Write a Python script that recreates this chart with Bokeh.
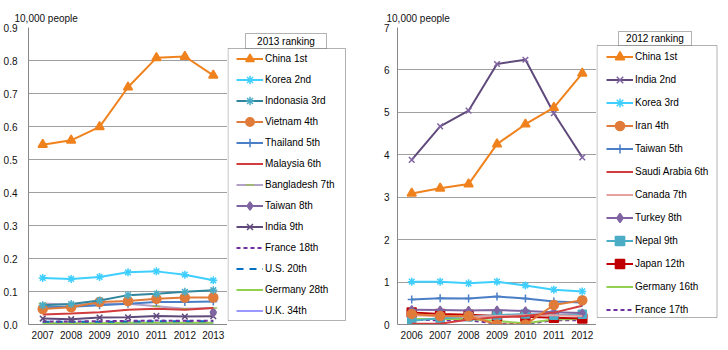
from bokeh.plotting import figure
from bokeh.models import (Range1d, FactorRange, FixedTicker, NumeralTickFormatter,
                          Legend, LegendItem, Label, BoxAnnotation)
from bokeh.layouts import row
from bokeh.embed import file_html
from bokeh.resources import INLINE

nan = float("nan")
FONT = "Liberation Sans"

# ---------------- 2013 ranking (left) ----------------
years_a = ["2007", "2008", "2009", "2010", "2011", "2012", "2013"]
china_a = [0.545, 0.558, 0.599, 0.719, 0.808, 0.812, 0.755]
korea_a = [0.141, 0.138, 0.144, 0.158, 0.161, 0.151, 0.134]
indonesia_a = [0.058, 0.062, 0.073, 0.089, 0.093, 0.099, 0.104]
vietnam_a = [0.047, 0.052, 0.068, 0.071, 0.078, 0.082, 0.082]
thailand_a = [0.052, 0.054, 0.058, 0.063, 0.068, 0.068, 0.070]
malaysia_a = [0.030, 0.033, 0.037, 0.045, 0.048, 0.045, 0.050]
bangladesh_a = [0.064, 0.060, 0.063, 0.063, 0.055, 0.048, 0.050]
taiwan_a = [nan, nan, nan, nan, nan, nan, 0.037]
india_a = [0.018, 0.016, 0.021, 0.022, 0.026, 0.024, 0.025]
france_a = [0.009, 0.009, 0.010, 0.011, 0.012, 0.011, 0.011]
us_a = [0.008, 0.008, 0.008, 0.009, 0.010, 0.010, 0.010]
germany_a = [0.004, 0.004, 0.004, 0.005, 0.005, 0.005, 0.005]
uk_a = [0.003, 0.003, 0.003, 0.003, 0.003, 0.003, 0.003]
ticks_a = [0.0, 0.1, 0.2, 0.3, 0.4, 0.5, 0.6, 0.7, 0.8, 0.9]

# ---------------- 2012 ranking (right) ----------------
years_b = ["2006", "2007", "2008", "2009", "2010", "2011", "2012"]
china_b = [3.09, 3.21, 3.31, 4.25, 4.72, 5.11, 5.92]
india_b = [3.88, 4.67, 5.04, 6.14, 6.24, 4.98, 3.94]
korea_b = [1.01, 1.01, 0.97, 1.01, 0.92, 0.82, 0.78]
iran_b = [0.25, 0.20, 0.20, 0.00, 0.00, 0.46, 0.57]
taiwan_b = [0.59, 0.62, 0.61, 0.66, 0.61, 0.54, 0.52]
saudi_b = [0.02, 0.02, 0.12, 0.17, 0.20, 0.28, 0.44]
canada_b = [0.22, 0.20, 0.18, 0.20, 0.22, 0.22, 0.20]
turkey_b = [0.35, 0.34, 0.33, 0.34, 0.32, 0.29, 0.27]
nepal_b = [0.09, 0.15, 0.18, 0.22, 0.25, 0.22, 0.24]
japan_b = [0.28, 0.25, 0.23, 0.20, 0.18, 0.16, 0.14]
germany_b = [0.13, 0.13, 0.13, 0.08, 0.03, 0.12, 0.13]
france_b = [0.11, 0.10, 0.10, 0.02, 0.01, 0.10, 0.10]
ticks_b = [0, 1, 2, 3, 4, 5, 6, 7]

series_a = [
    ("China 1st", china_a, "#F0821E", "triangle", "solid", "#F0821E", 9),
    ("Korea 2nd", korea_a, "#3FCFFF", "asterisk", "solid", "#3FCFFF", 8),
    ("Indonasia 3rd", indonesia_a, "#31859C", "asterisk", "solid", "#4BACC6", 8),
    ("Vietnam 4th", vietnam_a, "#E07B39", "circle", "solid", "#E07B39", 9),
    ("Thailand 5th", thailand_a, "#4A7EC6", "cross", "solid", "#4A7EC6", 8),
    ("Malaysia 6th", malaysia_a, "#D23C3C", None, "solid", None, 0),
    ("Bangladesh 7th", bangladesh_a, "#B3A2C7", "dash", "solid", "#9BBB59", 8),
    ("Taiwan 8th", taiwan_a, "#8064A2", "diamond", "solid", "#8064A2", 9),
    ("India 9th", india_a, "#604A7B", "x", "solid", "#604A7B", 8),
    ("France 18th", france_a, "#7030A0", None, "4 3", None, 0),
    ("U.S. 20th", us_a, "#0070C0", None, "7 6", None, 0),
    ("Germany 28th", germany_a, "#92D050", None, "solid", None, 0),
    ("U.K. 34th", uk_a, "#9999FF", None, "solid", None, 0),
]

series_b = [
    ("China 1st", china_b, "#F0821E", "triangle", "solid", "#F0821E", 9),
    ("India 2nd", india_b, "#604A7B", "x", "solid", "#8064A2", 8),
    ("Korea 3rd", korea_b, "#3FCFFF", "asterisk", "solid", "#3FCFFF", 8),
    ("Iran 4th", iran_b, "#E07B39", "circle", "solid", "#E07B39", 9),
    ("Taiwan 5th", taiwan_b, "#4A7EC6", "cross", "solid", "#4A7EC6", 8),
    ("Saudi Arabia 6th", saudi_b, "#D23C3C", None, "solid", None, 0),
    ("Canada 7th", canada_b, "#E6A0A0", None, "solid", None, 0),
    ("Turkey 8th", turkey_b, "#8064A2", "diamond", "solid", "#8064A2", 8),
    ("Nepal 9th", nepal_b, "#4BACC6", "square", "solid", "#4BACC6", 8),
    ("Japan 12th", japan_b, "#C00000", "square", "solid", "#C00000", 9),
    ("Germany 16th", germany_b, "#92D050", None, "solid", None, 0),
    ("France 17th", france_b, "#7030A0", None, "4 3", None, 0),
]

HEIGHT = 350
TOP = 27          # frame top (canvas px) shared by every figure in the row
FRAME_H = 297     # frame height -> frame bottom at 324
BOTTOM = HEIGHT - TOP - FRAME_H


def make_plot(years, series, ticks, ymax, fmt, b_left, f_w, lab_stand, title_off):
    width = b_left + f_w
    p = figure(width=width, height=HEIGHT, x_range=FactorRange(*years),
               y_range=Range1d(0, ymax), output_backend="svg",
               toolbar_location=None, min_border_left=b_left,
               min_border_right=0, min_border_top=TOP,
               min_border_bottom=BOTTOM)
    p.outline_line_color = None
    p.background_fill_color = "white"
    p.border_fill_color = "white"
    p.xgrid.grid_line_color = None
    p.ygrid.grid_line_color = "#A0A0A0"
    p.ygrid.grid_line_width = 1
    p.yaxis.ticker = FixedTicker(ticks=ticks)
    p.yaxis.formatter = NumeralTickFormatter(format=fmt)
    for ax in (p.xaxis[0], p.yaxis[0]):
        ax.axis_line_color = "#888888"
        ax.major_tick_line_color = None
        ax.minor_tick_line_color = None
        ax.major_tick_out = 0
        ax.major_tick_in = 0
        ax.minor_tick_out = 0
        ax.minor_tick_in = 0
        ax.major_label_text_font = FONT
        ax.major_label_text_font_size = "10px"
        ax.major_label_text_color = "#111111"
    p.yaxis.major_label_standoff = lab_stand
    p.xaxis.major_label_standoff = 6

    p.title.text = "10,000 people"
    p.title.align = "left"
    p.title.offset = title_off
    p.title.standoff = 7
    p.title.text_font = FONT
    p.title.text_font_size = "10px"
    p.title.text_font_style = "normal"
    p.title.text_color = "#111111"

    for label, vals, color, marker, dash, mcolor, msize in reversed(series):
        p.line(years, vals, line_color=color, line_width=2, line_dash=dash)
        if marker:
            p.scatter(years, vals, marker=marker, size=msize,
                      line_color=mcolor, fill_color=mcolor, line_width=1.5)
    return p


def make_legend(series, title, width, box, tbox, loc, row_h):
    # pixel-based ranges: data units equal pixels measured from the frame's bottom-left
    q = figure(width=width, height=HEIGHT, x_range=Range1d(0, width),
               y_range=Range1d(0, FRAME_H), title=None,
               output_backend="svg", toolbar_location=None,
               x_axis_location=None, y_axis_location=None,
               min_border_left=0, min_border_right=0,
               min_border_top=TOP, min_border_bottom=BOTTOM)
    q.outline_line_color = None
    q.xgrid.grid_line_color = None
    q.ygrid.grid_line_color = None
    q.background_fill_color = "white"
    q.border_fill_color = "white"

    bl, br, bb, bt = box
    q.add_layout(BoxAnnotation(left=bl, right=br, bottom=bb, top=bt,
                               fill_color="white", fill_alpha=1.0,
                               line_color="#000000", line_width=1))
    tl, tr, tb, tt = tbox
    q.add_layout(BoxAnnotation(left=tl, right=tr, bottom=tb, top=tt,
                               fill_color="white", fill_alpha=1.0,
                               line_color="#000000", line_width=1))
    q.add_layout(Label(x=(tl + tr) / 2, y=(tb + tt) / 2,
                       text=title, text_align="center", text_baseline="middle",
                       text_font=FONT, text_font_size="10px", text_color="#000000"))

    items = []
    for label, vals, color, marker, dash, mcolor, msize in series:
        rs = [q.line(x=[nan], y=[nan], line_color=color, line_width=2, line_dash=dash)]
        if marker:
            rs.append(q.scatter(x=[nan], y=[nan], marker=marker, size=msize,
                                line_color=mcolor, fill_color=mcolor, line_width=1.5))
        items.append(LegendItem(label=label, renderers=rs))
    legend = Legend(items=items, location=loc,
                    border_line_color=None, background_fill_alpha=0.0,
                    padding=0, spacing=0, margin=0, label_height=row_h,
                    glyph_height=row_h, glyph_width=27, label_standoff=2,
                    label_text_font=FONT, label_text_font_size="10px",
                    label_text_color="#000000", label_text_baseline="middle")
    q.add_layout(legend)
    return q


p1 = make_plot(years_a, series_a, ticks_a, 0.9, "0.0", 27, 200, 11, -14)
l1 = make_legend(series_a, "2013 ranking", 137, (0.5, 118, 4, 276), (18, 99, 276, 291),
                 (9, 3), 21)
p2 = make_plot(years_b, series_b, ticks_b, 7, "0", 33, 199, 8, -11)
l2 = make_legend(series_b, "2012 ranking", 132, (0.5, 120.5, 7, 279), (22, 95, 279, 293),
                 (10, 3.5), 23)

layout = row(p1, l1, p2, l2, spacing=0)
open("out.html", "w").write(file_html(layout, INLINE))
